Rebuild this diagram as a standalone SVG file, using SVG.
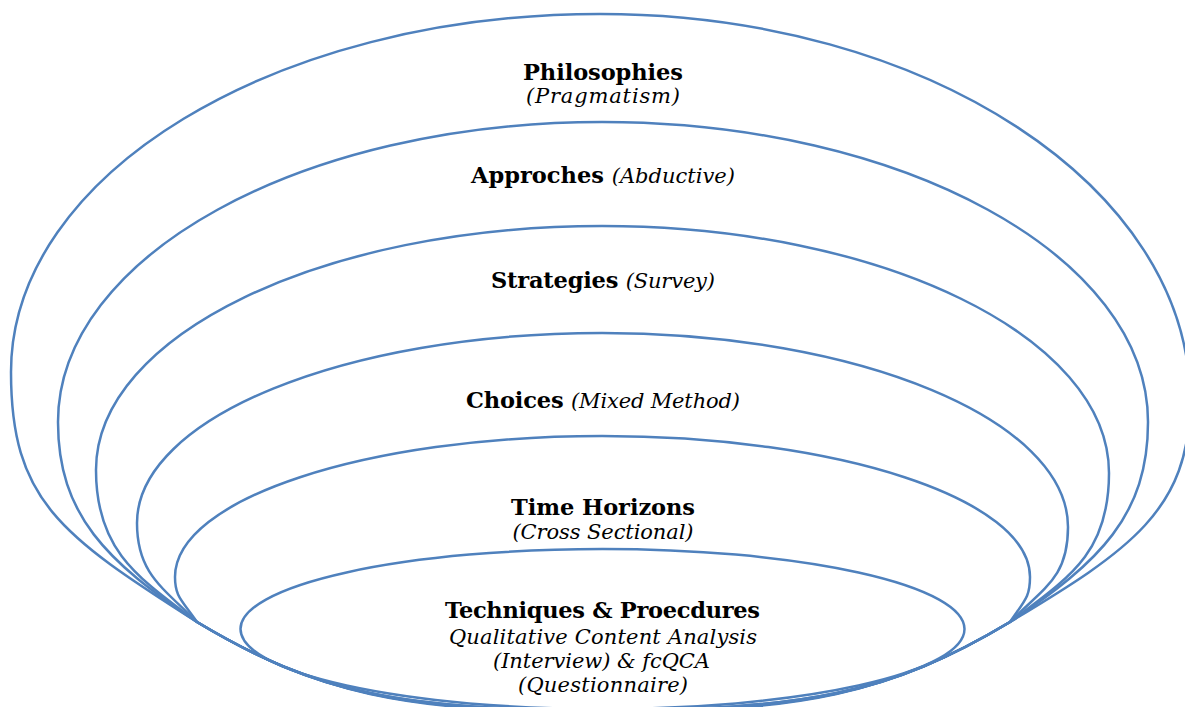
<svg xmlns="http://www.w3.org/2000/svg" width="1185" height="707" viewBox="0 0 1185 707">
<style>
.ring{fill:none;stroke:#4f81bd;stroke-width:2.5}
.t{font-family:"DejaVu Serif","Liberation Serif",serif;font-size:21px;fill:#000;text-anchor:middle}
.b{font-weight:bold;font-size:22.5px}
.i{font-style:italic}
</style>
<rect width="1185" height="707" fill="#fff"/>
<g id="philosophies">
<path class="ring" d="M197,622 C60,535 11,500 11,372 C11,174 275,14 600,14 C926,14 1190,187 1190,400 C1190,510 1130,550 1010,622 C890,694 803,712 603,712 C403,712 317,694 197,622 Z"/>
<text class="t b" x="603" y="80" textLength="160">Philosophies</text>
<text class="t i" x="603" y="103" textLength="154">(Pragmatism)</text>
</g>
<g id="approaches">
<path class="ring" d="M197,622 C107,562 58,515 58,422 C58,256 302,122 602,122 C903,122 1148,256 1148,422 C1148,515 1100,562 1010,622 C890,694 803,711 603,711 C403,711 317,694 197,622 Z"/>
<text class="t" x="603" y="183" textLength="264"><tspan class="b">Approches </tspan><tspan class="i">(Abductive)</tspan></text>
</g>
<g id="strategies">
<path class="ring" d="M197,622 C137,577 96,550 96,470 C96,335 323,226 602,226 C882,226 1109,337 1109,473 C1109,553 1070,577 1010,622 C890,694 803,711 603,711 C403,711 317,694 197,622 Z"/>
<text class="t" x="603" y="288" textLength="224"><tspan class="b">Strategies </tspan><tspan class="i">(Survey)</tspan></text>
</g>
<g id="choices">
<path class="ring" d="M197,622 C162,587 137,573 137,523 C137,418 345,333 602,333 C859,333 1068,420 1068,527 C1068,577 1045,587 1010,622 C890,694 803,710 603,710 C403,710 317,694 197,622 Z"/>
<text class="t" x="603" y="408" textLength="274"><tspan class="b">Choices </tspan><tspan class="i">(Mixed Method)</tspan></text>
</g>
<g id="time-horizons">
<path class="ring" d="M197,622 C182,600 175,597 175,577 C175,499 366,436 602,436 C838,436 1030,499 1030,577 C1030,597 1025,600 1010,622 C890,694 803,710 603,710 C403,710 317,694 197,622 Z"/>
<text class="t b" x="603" y="515" textLength="184">Time Horizons</text>
<text class="t i" x="603" y="539" textLength="181">(Cross Sectional)</text>
</g>
<g id="techniques">
<ellipse class="ring" cx="602.5" cy="629" rx="362" ry="80"/>
<text class="t b" x="602.5" y="618" textLength="315">Techniques &amp; Proecdures</text>
<text class="t i" x="603" y="644" textLength="308">Qualitative Content Analysis</text>
<text class="t i" x="601.5" y="668" textLength="217">(Interview) &amp; fcQCA</text>
<text class="t i" x="603" y="692" textLength="170">(Questionnaire)</text>
</g>
<g id="connectors"></g>
</svg>
